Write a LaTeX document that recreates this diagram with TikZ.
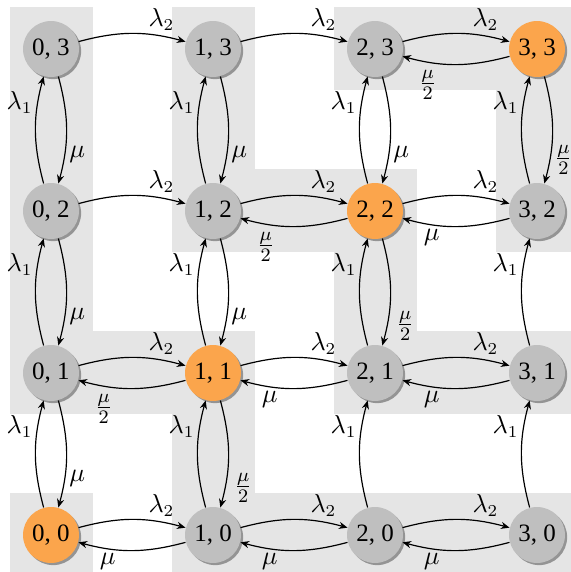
\documentclass[tikz,border=0pt]{standalone}
\usepackage{fontspec}
\setmainfont{Liberation Serif}
\usetikzlibrary{shadows,arrows.meta}
\definecolor{bgbox}{RGB}{229,229,229}
\definecolor{stgray}{RGB}{191,191,191}
\definecolor{storange}{RGB}{251,165,76}
\begin{document}
\begin{tikzpicture}[x=0.42pt,y=0.42pt,
  state/.style={circle,minimum size=23.5pt,inner sep=0pt,fill=stgray,font=\fontsize{10.5}{12}\selectfont,
    drop shadow={shadow xshift=0.9pt,shadow yshift=-0.9pt,fill=black!55,opacity=0.7}},
  hot/.style={state,fill=storange},
  arr/.style={-{Stealth[length=3.6pt,width=3pt]},line width=0.5pt,bend left=15},
  lab/.style={auto,pos=0.63,inner sep=1.2pt,font=\fontsize{10.5}{12}\selectfont},
  flab/.style={lab,inner sep=2.4pt,font=\fontsize{11}{12}\selectfont}]
\useasboundingbox (0,0) rectangle (571,572);
% background regions
\fill[bgbox] (9.5,157.5) rectangle (92.5,564.5);
\fill[bgbox] (9.5,157.5) rectangle (254.5,240.5);
\fill[bgbox] (171.5,319.5) rectangle (254.5,564.5);
\fill[bgbox] (171.5,-10) rectangle (254.5,240.5);
\fill[bgbox] (9.5,-10) rectangle (92.5,78.5);
\fill[bgbox] (171.5,-10) rectangle (580,78.5);
\fill[bgbox] (171.5,319.5) rectangle (416.5,402.5);
\fill[bgbox] (333.5,157.5) rectangle (416.5,402.5);
\fill[bgbox] (333.5,157.5) rectangle (580,240.5);
\fill[bgbox] (333.5,481.5) rectangle (580,564.5);
\fill[bgbox] (495.5,319.5) rectangle (580,564.5);
% states
\node[state] (n03) at (51,523) {0, 3};
\node[state] (n13) at (213,523) {1, 3};
\node[state] (n23) at (375,523) {2, 3};
\node[hot]   (n33) at (537,523) {3, 3};
\node[state] (n02) at (51,361) {0, 2};
\node[state] (n12) at (213,361) {1, 2};
\node[hot]   (n22) at (375,361) {2, 2};
\node[state] (n32) at (537,361) {3, 2};
\node[state] (n01) at (51,199) {0, 1};
\node[hot]   (n11) at (213,199) {1, 1};
\node[state] (n21) at (375,199) {2, 1};
\node[state] (n31) at (537,199) {3, 1};
\node[hot]   (n00) at (51,37) {0, 0};
\node[state] (n10) at (213,37) {1, 0};
\node[state] (n20) at (375,37) {2, 0};
\node[state] (n30) at (537,37) {3, 0};
% horizontal transitions
\draw[arr] (n03) to node[lab] {$\lambda_2$} (n13);
\draw[arr] (n13) to node[lab] {$\lambda_2$} (n23);
\draw[arr] (n23) to node[lab] {$\lambda_2$} (n33);
\draw[arr] (n33) to node[flab] {$\frac{\mu}{2}$} (n23);
\draw[arr] (n02) to node[lab] {$\lambda_2$} (n12);
\draw[arr] (n12) to node[lab] {$\lambda_2$} (n22);
\draw[arr] (n22) to node[flab] {$\frac{\mu}{2}$} (n12);
\draw[arr] (n22) to node[lab] {$\lambda_2$} (n32);
\draw[arr] (n32) to node[lab] {$\mu$} (n22);
\draw[arr] (n01) to node[lab] {$\lambda_2$} (n11);
\draw[arr] (n11) to node[flab] {$\frac{\mu}{2}$} (n01);
\draw[arr] (n11) to node[lab] {$\lambda_2$} (n21);
\draw[arr] (n21) to node[lab] {$\mu$} (n11);
\draw[arr] (n21) to node[lab] {$\lambda_2$} (n31);
\draw[arr] (n31) to node[lab] {$\mu$} (n21);
\draw[arr] (n00) to node[lab] {$\lambda_2$} (n10);
\draw[arr] (n10) to node[lab] {$\mu$} (n00);
\draw[arr] (n10) to node[lab] {$\lambda_2$} (n20);
\draw[arr] (n20) to node[lab] {$\mu$} (n10);
\draw[arr] (n20) to node[lab] {$\lambda_2$} (n30);
\draw[arr] (n30) to node[lab] {$\mu$} (n20);
% vertical transitions
\draw[arr] (n02) to node[lab] {$\lambda_1$} (n03);
\draw[arr] (n03) to node[lab] {$\mu$} (n02);
\draw[arr] (n01) to node[lab] {$\lambda_1$} (n02);
\draw[arr] (n02) to node[lab] {$\mu$} (n01);
\draw[arr] (n00) to node[lab] {$\lambda_1$} (n01);
\draw[arr] (n01) to node[lab] {$\mu$} (n00);
\draw[arr] (n12) to node[lab] {$\lambda_1$} (n13);
\draw[arr] (n13) to node[lab] {$\mu$} (n12);
\draw[arr] (n11) to node[lab] {$\lambda_1$} (n12);
\draw[arr] (n12) to node[lab] {$\mu$} (n11);
\draw[arr] (n10) to node[lab] {$\lambda_1$} (n11);
\draw[arr] (n11) to node[flab] {$\frac{\mu}{2}$} (n10);
\draw[arr] (n22) to node[lab] {$\lambda_1$} (n23);
\draw[arr] (n23) to node[lab] {$\mu$} (n22);
\draw[arr] (n21) to node[lab] {$\lambda_1$} (n22);
\draw[arr] (n22) to node[flab] {$\frac{\mu}{2}$} (n21);
\draw[arr] (n20) to node[lab] {$\lambda_1$} (n21);
\draw[arr] (n32) to node[lab] {$\lambda_1$} (n33);
\draw[arr] (n33) to node[flab,inner sep=0.8pt] {$\frac{\mu}{2}$} (n32);
\draw[arr] (n31) to node[lab] {$\lambda_1$} (n32);
\draw[arr] (n30) to node[lab] {$\lambda_1$} (n31);
\end{tikzpicture}
\end{document}
